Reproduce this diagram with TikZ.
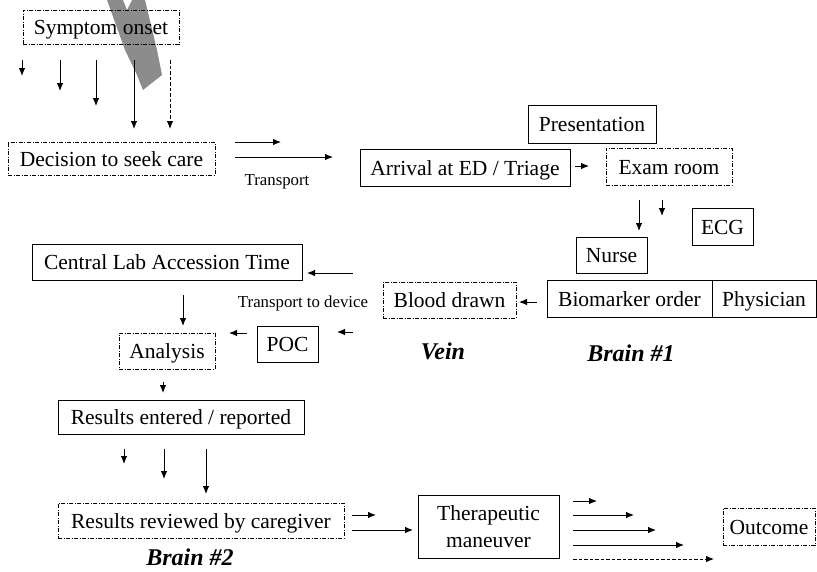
\documentclass[tikz,border=0pt]{standalone}
\usepackage{fontspec}
\setmainfont{Liberation Serif}
\usetikzlibrary{arrows.meta}
\definecolor{markgrey}{RGB}{140,140,140}
\begin{document}
\begin{tikzpicture}[x=1pt,y=-1pt,
  basebox/.style={inner sep=0pt, align=center, font=\fontsize{21.5}{27}\selectfont},
  solidbox/.style={basebox, draw, line width=1pt},
  dashbox/.style={basebox, draw, line width=0.8pt, dash pattern=on 4pt off 1.5pt on 1pt off 1.5pt},
  onerow/.style={text height=17.5pt, text depth=2pt},
  smalllabel/.style={inner sep=0pt, font=\fontsize{16.8}{20}\selectfont},
  brainlabel/.style={inner sep=0pt, font=\fontsize{24}{28}\selectfont\bfseries\itshape},
  arr/.style={-{Latex[length=8pt,width=6.5pt]}, line width=0.9pt},
  darr/.style={arr, dash pattern=on 3.5pt off 2pt}]
\useasboundingbox (0,0) rectangle (817,571);

% grey mark
\fill[markgrey] (107,0) -- (123,0) -- (127,10) -- (132,0) -- (145,0) -- (157,50) -- (162,75) -- (143,90) -- (137,75) -- (125,50) -- cycle;

% boxes
\node[dashbox, onerow, minimum width=156pt, minimum height=34pt] (onset) at (101,27) {Symptom onset};
\node[dashbox, onerow, minimum width=207pt, minimum height=33pt] (decision) at (111.5,158.5) {Decision to seek care};
\node[solidbox, onerow, minimum width=210pt, minimum height=37pt] (arrival) at (465,167.5) {Arrival at ED / Triage};
\node[solidbox, onerow, minimum width=128pt, minimum height=38pt] (presentation) at (592,124) {Presentation};
\node[dashbox, onerow, minimum width=126pt, minimum height=37pt] (exam) at (669,166.5) {Exam room};
\node[solidbox, onerow, minimum width=61pt, minimum height=37pt] (ecg) at (722.5,226.5) {ECG};
\node[solidbox, onerow, minimum width=71pt, minimum height=36pt] (nurse) at (611.5,255) {Nurse};
\node[solidbox, onerow, minimum width=165pt, minimum height=37pt] (biomarker) at (629.5,298.5) {Biomarker order};
\node[solidbox, onerow, minimum width=104pt, minimum height=37pt] (physician) at (764,298.5) {Physician};
\node[dashbox, onerow, minimum width=133pt, minimum height=36pt] (blood) at (449.5,300) {Blood drawn};
\node[solidbox, onerow, minimum width=270pt, minimum height=36pt] (central) at (167,262) {Central Lab Accession Time};
\node[dashbox, onerow, minimum width=96pt, minimum height=36pt] (analysis) at (167,351) {Analysis};
\node[solidbox, onerow, minimum width=61pt, minimum height=36pt] (poc) at (287.5,344) {POC};
\node[solidbox, onerow, minimum width=246pt, minimum height=34pt] (entered) at (181,417) {Results entered / reported};
\node[dashbox, onerow, minimum width=286pt, minimum height=35pt] (reviewed) at (201,520.5) {Results reviewed by caregiver};
\node[solidbox, minimum width=141pt, minimum height=63pt] (therapeutic) at (488.5,526.5) {Therapeutic\\maneuver};
\node[dashbox, onerow, minimum width=92pt, minimum height=37pt] (outcome) at (769,526.5) {Outcome};

% labels
\node[smalllabel] (transport) at (277,182) {Transport};
\node[smalllabel] (transportdev) at (303,303) {Transport to device};
\node[brainlabel] (brainone) at (631,353) {Brain \#1};
\node[brainlabel] (vein) at (443,351) {Vein};
\node[brainlabel] (braintwo) at (190,557) {Brain \#2};

% free arrow end points
\foreach \n/\x/\ya/\yb in {o1/22/60/76, o2/60/60/91, o3/96/60/106, o4/134/60/129, o5/170/60/129,
                           e1/639/200/231, e2/662/200/216,
                           c1/183/295/326, a1/163/382/393,
                           r1/124/449/464, r2/164/449/479, r3/206/449/494}
  {\coordinate (\n s) at (\x,\ya); \coordinate (\n e) at (\x,\yb);}
\foreach \n/\xa/\xb/\y in {t1/235/281/142, t2/235/333/157,
                           x1/575/589/166,
                           b1/537/519/302, l1/353/307/273,
                           p1/247/229/333, p2/353/337/332,
                           v1/352/376/515, v2/352/413/530,
                           m1/573/597/501, m2/573/634/515, m3/573/656/530, m4/573/684/545, m5/573/714/559}
  {\coordinate (\n s) at (\xa,\y); \coordinate (\n e) at (\xb,\y);}

\foreach \n in {o1,o2,o3,o4,e1,e2,c1,a1,r1,r2,r3,t1,t2,x1,b1,l1,p1,p2,v1,v2,m1,m2,m3,m4}
  {\draw[arr] (\n s) -- (\n e);}
\draw[darr] (o5s) -- (o5e);
\draw[darr] (m5s) -- (m5e);
\end{tikzpicture}
\end{document}
